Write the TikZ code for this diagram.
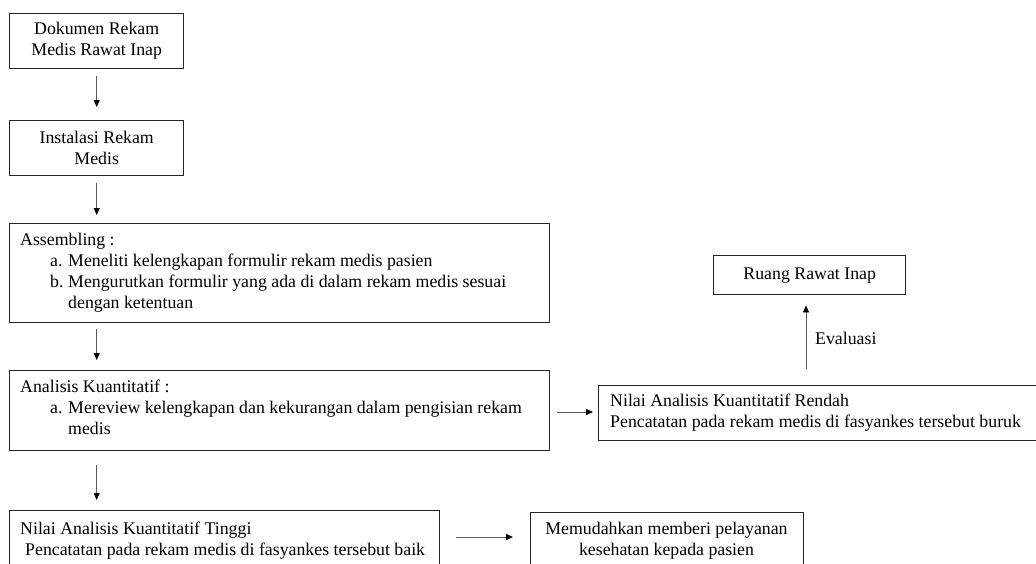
\documentclass[tikz,border=0pt]{standalone}
\usepackage{fontspec}
\setmainfont{Liberation Serif}
\usetikzlibrary{arrows.meta,calc}
\begin{document}
\begin{tikzpicture}[x=1pt,y=-1pt,
  box/.style={draw=black!85, line width=1.4pt, inner sep=0pt, anchor=north west},
  txt/.style={inner sep=0pt, anchor=north west, align=left, font=\fontsize{17.8}{21}\selectfont, text=black},
  ctxt/.style={inner sep=0pt, align=center, font=\fontsize{17.8}{21}\selectfont, text=black},
  arr/.style={draw=black!65, line width=0.8pt, -{Triangle[length=7pt,width=6pt,black]}}
]
\useasboundingbox (0,0) rectangle (1036,563);
\fill[white] (0,0) rectangle (1036,563);
\clip (0,0) rectangle (1036,563);

% boxes
\node[box, minimum width=174pt, minimum height=55pt] (b1) at (9,13) {};
\node[box, minimum width=174pt, minimum height=55pt] (b2) at (9,120) {};
\node[box, minimum width=540pt, minimum height=99pt] (b3) at (9,223) {};
\node[box, minimum width=540pt, minimum height=80pt] (b4) at (9,370) {};
\node[box, minimum width=430pt, minimum height=80pt] (b5) at (9,510) {};
\node[box, minimum width=273pt, minimum height=80pt] (b6) at (530,512) {};
\node[box, minimum width=500pt, minimum height=55pt] (b7) at (598,385) {};
\node[box, minimum width=192pt, minimum height=39pt] (b8) at (713,255) {};

% texts
\node[ctxt] (t1) at (b1.center) {Dokumen Rekam\\Medis Rawat Inap};
\node[ctxt] (t2) at (b2.center) {Instalasi Rekam\\Medis};
\node[txt] (t3) at (20,231) {\strut Assembling :\\
  \hspace*{30pt}\makebox[18pt][l]{a.}Meneliti kelengkapan formulir rekam medis pasien\\
  \hspace*{30pt}\makebox[18pt][l]{b.}Mengurutkan formulir yang ada di dalam rekam medis sesuai\\
  \hspace*{48pt}dengan ketentuan};
\node[txt] (t4) at (20,378) {\strut Analisis Kuantitatif :\\
  \hspace*{30pt}\makebox[18pt][l]{a.}Mereview kelengkapan dan kekurangan dalam pengisian rekam\\
  \hspace*{48pt}medis};
\node[txt] (t5) at (20,520) {\strut Nilai Analisis Kuantitatif Tinggi\\
  \hspace*{5pt}Pencatatan pada rekam medis di fasyankes tersebut baik};
\node[ctxt] (t6) at (666.5,541) {Memudahkan memberi pelayanan\\kesehatan kepada pasien};
\node[txt] (t7) at (610,392) {\strut Nilai Analisis Kuantitatif Rendah\\
  Pencatatan pada rekam medis di fasyankes tersebut buruk};
\node[ctxt] (t8) at (b8.center) {Ruang Rawat Inap};

% connectors
\draw[arr] ([yshift=-7pt]b1.south) -- ([yshift=13pt]b2.north);
\coordinate (c3) at (b2.south |- b3.north);
\draw[arr] ([yshift=-7pt]b2.south) -- ([yshift=8pt]c3);
\coordinate (c4a) at (b2.south |- b3.south);
\coordinate (c4b) at (b2.south |- b4.north);
\draw[arr] ([yshift=-6pt]c4a) -- ([yshift=10pt]c4b);
\coordinate (c5a) at (b2.south |- b4.south);
\coordinate (c5b) at (b2.south |- b5.north);
\draw[arr] ([yshift=-14pt]c5a) -- ([yshift=10pt]c5b);
\draw[arr] ($(b5.north east)+(16,27)$) -- ($(b6.north west)+(-17,25)$);
\draw[arr] ($(b4.north east)+(7,42)$) -- ($(b7.north west)+(-5,27)$);
\draw[arr] ($(b7.north west)+(208,-16)$) -- ($(b8.south west)+(93,10)$);
\node[ctxt, anchor=west] (ev) at (815,338) {Evaluasi};
\end{tikzpicture}
\end{document}
